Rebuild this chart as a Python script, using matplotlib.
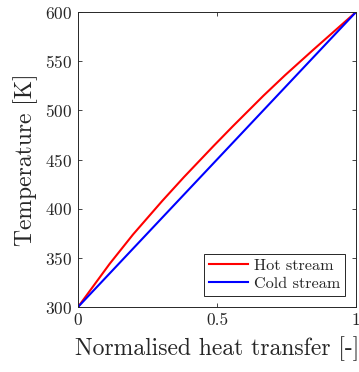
import matplotlib
matplotlib.use("Agg")
import matplotlib.pyplot as plt

# hot stream profile (normalised heat transfer, temperature in K)
hot_q = [0.0, 0.114, 0.198, 0.303, 0.381, 0.487, 0.556, 0.667, 0.745, 0.847, 1.0]
hot_T = [300.0, 344.0, 373.8, 407.9, 432.1, 463.6, 483.6, 514.9, 535.8, 561.8, 600.0]

# cold stream is a straight line
cold_q = [0.0, 1.0]
cold_T = [300.0, 600.0]

x_ticks = [0, 0.5, 1]
x_labels = ["0", "0.5", "1"]
y_ticks = [300, 350, 400, 450, 500, 550, 600]

plt.rcParams["font.family"] = ["cmr10", "DejaVu Serif"]
plt.rcParams["mathtext.fontset"] = "cm"
plt.rcParams["axes.formatter.use_mathtext"] = True

ink = (0.15, 0.15, 0.15)

fig = plt.figure(figsize=(3.59, 3.72), dpi=100)
ax = fig.add_axes([0.2173, 0.1747, 0.7744, 0.793])

ax.plot(hot_q, hot_T, color=(1, 0, 0), lw=1.5, label="Hot stream",
        solid_joinstyle="round")
ax.plot(cold_q, cold_T, color=(0, 0, 1), lw=1.5, label="Cold stream")

ax.set_xlim(0, 1)
ax.set_ylim(300, 600)
ax.set_xticks(x_ticks)
ax.set_xticklabels(x_labels)
ax.set_yticks(y_ticks)
ax.tick_params(direction="in", top=True, right=True, length=3, width=0.6,
               colors=ink, labelsize=12.5, pad=4)
for s in ax.spines.values():
    s.set_color(ink)
    s.set_linewidth(0.7)

ax.set_xlabel("Normalised heat transfer [-]", fontsize=17, color=ink, labelpad=6)
ax.set_ylabel("Temperature [K]", fontsize=17, color=ink, labelpad=5)

leg = ax.legend(loc="lower right", fontsize=11.7, fancybox=False, framealpha=1,
                edgecolor=ink, borderaxespad=0.7, handlelength=2.4,
                handletextpad=0.35, borderpad=0.3, labelspacing=0.2)
leg.get_frame().set_linewidth(0.7)
for t in leg.get_texts():
    t.set_color(ink)

fig.savefig("out.png", dpi=100)
